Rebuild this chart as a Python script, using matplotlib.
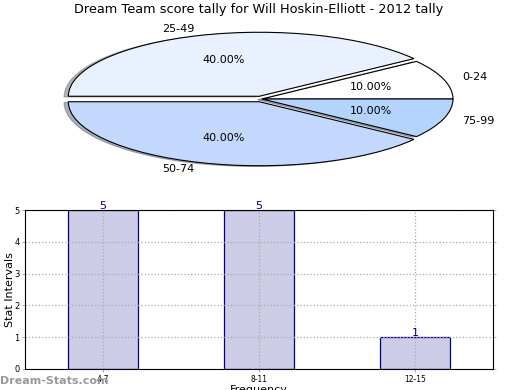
import matplotlib
matplotlib.use("Agg")
import matplotlib.pyplot as plt

title = "Dream Team score tally for Will Hoskin-Elliott - 2012 tally"
pie_labels = ["0-24", "25-49", "50-74", "75-99"]
pie_values = [10, 40, 40, 10]
pie_colors = ["#ffffff", "#e9f0fe", "#c4d8fe", "#b4d4fe"]
pie_explode = [0, 0.045, 0.045, 0]

bar_categories = ["4-7", "8-11", "12-15"]
bar_values = [5, 5, 1]

fig = plt.figure(figsize=(5.2, 3.9), dpi=100)
fig.patch.set_facecolor("white")

# Pie (squashed ellipse)
cx, cy, rx, ry = 262, 99, 191, 64
axp = fig.add_axes([(cx - rx)/520, 1 - (cy + ry)/390, 2*rx/520, 2*ry/390])
wedges, texts, autotexts = axp.pie(
    pie_values, labels=pie_labels, colors=pie_colors, autopct="%.2f%%",
    explode=pie_explode, shadow={"ox": -0.016, "oy": -0.008, "shade": 0.55},
    startangle=0,
    wedgeprops=dict(edgecolor="black", linewidth=0.8),
    textprops=dict(fontsize=8), frame=False)
axp.set_aspect("auto")
axp.set_xlim(-1, 1)
axp.set_ylim(-1, 1)
fig.text(259/520, 1 - 10/390, title, ha="center", va="center", fontsize=9.3)

# Bars
axb = fig.add_axes([25/520, 1 - 369/390, 468/520, 159/390])
x = list(range(len(bar_categories)))
axb.bar(x, bar_values, width=0.45, color="#ccccE6", edgecolor="#000080",
        linewidth=0.9, zorder=2)
for xi, v in zip(x, bar_values):
    axb.annotate(str(v), (xi, v), xytext=(0, 3), textcoords="offset points",
                 ha="center", va="center", color="#000080", fontsize=8)
axb.set_xlim(-0.5, 2.5)
axb.set_ylim(0, 5)
axb.set_xticks(x)
axb.set_xticklabels(bar_categories, fontsize=5.5)
axb.set_yticks(range(6))
axb.set_yticklabels([str(i) for i in range(6)], fontsize=6)
axb.tick_params(axis="both", length=2, width=0.6, color="#999999", pad=2,
                right=True)
axb.grid(True, linestyle=":", color="#aaaaaa", linewidth=0.9, zorder=3)
axb.set_axisbelow(False)
for s in axb.spines.values():
    s.set_zorder(5)
axb.set_ylabel("Stat Intervals", fontsize=8)
axb.yaxis.set_label_coords(-0.022, 0.5)
axb.set_xlabel("Frequency", fontsize=8, labelpad=1)
fig.text(0, 1 - 381/390, "Dream-Stats.com", color="#999999", fontsize=8,
         ha="left", va="center", fontweight="bold")

fig.savefig("out.png", dpi=100)
